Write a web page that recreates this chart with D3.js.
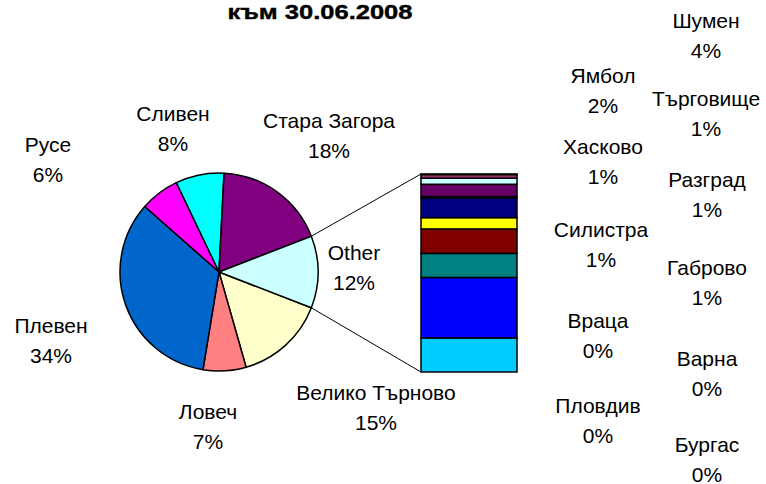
<!DOCTYPE html>
<meta charset="utf-8">
<style>
body { margin: 0; background: #fff; }
text { font-family: "Liberation Sans", Arial, sans-serif; fill: #000; }
.lbl { font-size: 21px; }
.title { font-size: 20px; font-weight: bold; stroke: #000; stroke-width: 0.4px; }
</style>
<svg width="766" height="484"></svg>
<script src="https://d3js.org/d3.v7.min.js"></script>
<script>

var title = "към 30.06.2008";

// main pie (percent of total)
var mainNames = ["Велико Търново", "Ловеч", "Плевен", "Русе", "Сливен", "Стара Загора"];
var mainValues = [14.7, 7.0, 33.9, 6.4, 7.9, 18.3];
var mainColors = ["#FFFFCC", "#FF8080", "#0066CC", "#FF00FF", "#00FFFF", "#800080"];

// secondary (stacked bar) values, percent of total
var otherLabel = "Other";
var otherColor = "#CCFFFF";
var otherNames = ["Бургас", "Варна", "Враца", "Габрово", "Пловдив", "Разград", "Силистра", "Търговище", "Хасково", "Шумен", "Ямбол"];
var otherValues = [0.03, 0.22, 0.36, 0.73, 0.08, 1.17, 0.67, 1.45, 1.43, 3.59, 2.02];
var otherColors = ["#9999FF", "#993366", "#CCFFFF", "#660066", "#CCCCFF", "#000080", "#FFFF00", "#800000", "#008080", "#0000FF", "#00CCFF"];

// label placement: [center x, baseline of first line]
var labelPos = {
  "Велико Търново": [376, 400], "Ловеч": [208, 419], "Плевен": [51, 333],
  "Русе": [48, 152], "Сливен": [173, 121], "Стара Загора": [329, 128],
  "Other": [354, 260],
  "Шумен": [706, 28], "Ямбол": [603, 83], "Търговище": [706, 106],
  "Хасково": [603, 154], "Разград": [707, 187], "Силистра": [601, 237],
  "Габрово": [707, 275], "Враца": [598, 328], "Варна": [707, 366],
  "Пловдив": [598, 413], "Бургас": [707, 452]
};
var lineGap = 29.5;

var svg = d3.select("svg"),
    cx = 219, cy = 272, r = 99;

var total = d3.sum(mainValues) + d3.sum(otherValues),
    otherSum = d3.sum(otherValues);

var pieData = mainNames.map(function(n, i) {
  return {name: n, value: mainValues[i], color: mainColors[i]};
}).concat([{name: otherLabel, value: otherSum, color: otherColor}]);

// "Other" slice centred on 3 o'clock
var a0 = Math.PI / 2 + Math.PI * otherSum / total;
var pie = d3.pie().sort(null).value(function(d) { return d.value; })
    .startAngle(a0).endAngle(a0 + 2 * Math.PI);
var arc = d3.arc().innerRadius(0).outerRadius(r);
var arcs = pie(pieData);

var g = svg.append("g").attr("transform", "translate(" + cx + "," + cy + ")");
g.selectAll("path")
  .data(arcs)
  .enter().append("path")
    .attr("d", arc)
    .attr("fill", function(d) { return d.data.color; })
    .attr("stroke", "#000")
    .attr("stroke-width", 1.5)
    .attr("stroke-linejoin", "round");

// secondary bar
var barX = 421, barW = 96;
var y = d3.scaleLinear().domain([0, otherSum]).range([372, 174]);

var stack = [], acc = 0;
for (var i = otherNames.length - 1; i >= 0; i--) {
  stack.push({name: otherNames[i], y0: acc, y1: acc + otherValues[i], color: otherColors[i]});
  acc += otherValues[i];
}

// connector lines
var oArc = arcs[arcs.length - 1];
function edge(a) { return [cx + r * Math.sin(a), cy - r * Math.cos(a)]; }
var pTop = edge(oArc.startAngle), pBot = edge(oArc.endAngle);
svg.append("line")
  .attr("x1", pTop[0]).attr("y1", pTop[1])
  .attr("x2", barX).attr("y2", y(otherSum))
  .attr("stroke", "#000").attr("stroke-width", 1);
svg.append("line")
  .attr("x1", pBot[0]).attr("y1", pBot[1])
  .attr("x2", barX).attr("y2", y(0))
  .attr("stroke", "#000").attr("stroke-width", 1);

svg.append("g").selectAll("rect")
  .data(stack)
  .enter().append("rect")
    .attr("x", barX)
    .attr("y", function(d) { return y(d.y1); })
    .attr("width", barW)
    .attr("height", function(d) { return y(d.y0) - y(d.y1); })
    .attr("fill", function(d) { return d.color; })
    .attr("stroke", "#000")
    .attr("stroke-width", 1.5);

// labels
var labels = pieData.map(function(d) { return {name: d.name, value: d.value}; })
  .concat(otherNames.map(function(n, i) { return {name: n, value: otherValues[i]}; }));

var lg = svg.append("g").selectAll("text")
  .data(labels)
  .enter().append("text")
    .attr("class", "lbl")
    .attr("text-anchor", "middle");
lg.append("tspan")
  .attr("x", function(d) { return labelPos[d.name][0]; })
  .attr("y", function(d) { return labelPos[d.name][1]; })
  .text(function(d) { return d.name; });
lg.append("tspan")
  .attr("x", function(d) { return labelPos[d.name][0]; })
  .attr("y", function(d) { return labelPos[d.name][1] + lineGap; })
  .text(function(d) { return Math.round(d.value / total * 100) + "%"; });

svg.append("text")
  .attr("class", "title")
  .attr("x", 320).attr("y", 19)
  .attr("text-anchor", "middle")
  .attr("textLength", 185)
  .attr("lengthAdjust", "spacingAndGlyphs")
  .text(title);
</script>
